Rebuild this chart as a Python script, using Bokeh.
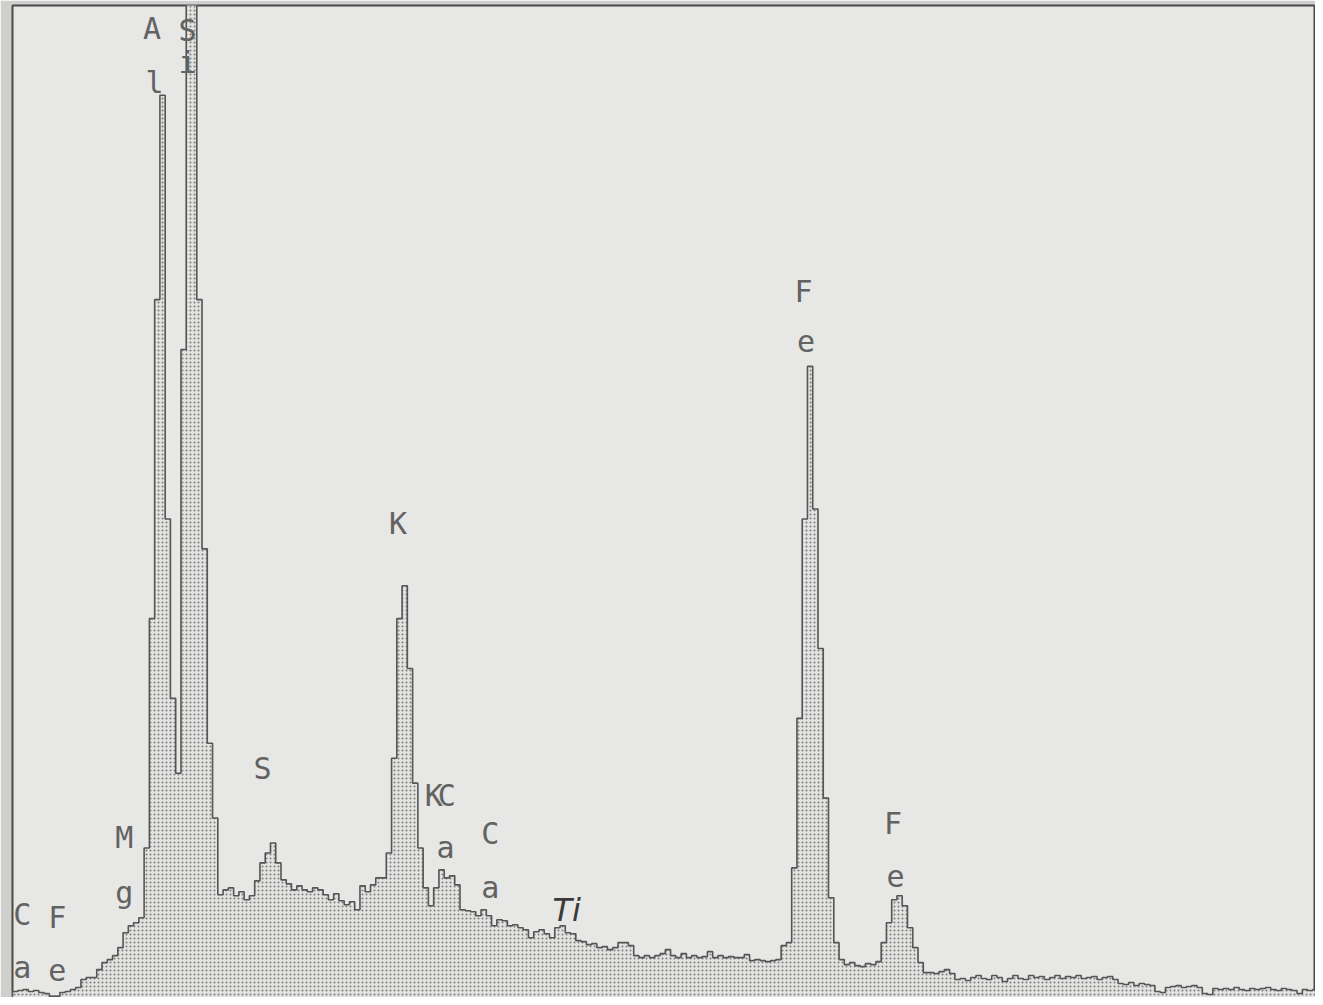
from bokeh.plotting import figure
from bokeh.models import Range1d, ColumnDataSource
from bokeh.core.properties import value
from bokeh.embed import file_html
from bokeh.resources import INLINE

# EDS spectrum: counts per channel, channels of 0.04 keV starting at 0.32 keV
energy_start = 0.32
energy_end = 10.22
channel_width = 0.04
counts = [
    6, 7, 8, 6, 7, 5, 4, 1, 1, 5,
    6, 8, 10, 18, 20, 20, 28, 35, 38, 42,
    50, 65, 72, 75, 80, 150, 380, 700, 905, 480,
    300, 225, 650, 1100, 1100, 700, 450, 255, 180, 103,
    108, 110, 102, 106, 98, 102, 117, 135, 145, 155,
    135, 118, 114, 108, 112, 108, 106, 110, 108, 103,
    98, 104, 97, 93, 96, 88, 112, 106, 113, 120,
    120, 145, 240, 380, 413, 330, 215, 150, 110, 92,
    110, 128, 120, 122, 113, 88, 87, 86, 82, 88,
    82, 72, 78, 77, 72, 73, 70, 68, 60, 66,
    68, 64, 60, 70, 72, 65, 64, 57, 56, 53,
    54, 50, 51, 48, 50, 55, 55, 52, 42, 40,
    42, 40, 42, 44, 48, 42, 40, 44, 40, 42,
    40, 41, 46, 40, 42, 40, 41, 40, 40, 43,
    37, 38, 37, 36, 37, 38, 52, 55, 130, 280,
    480, 633, 490, 350, 200, 100, 55, 38, 33, 35,
    32, 31, 34, 33, 36, 55, 75, 98, 102, 92,
    70, 50, 35, 25, 25, 24, 26, 28, 24, 18,
    19, 17, 20, 22, 19, 18, 22, 20, 16, 19,
    22, 19, 18, 22, 20, 21, 18, 20, 22, 19,
    21, 20, 22, 19, 20, 21, 18, 20, 21, 18,
    14, 13, 15, 12, 14, 13, 12, 6, 5, 10,
    11, 12, 10, 11, 12, 10, 4, 3, 9, 8,
    9, 8, 10, 8, 7, 9, 8, 9, 10, 8,
    7, 9, 8, 7, 4, 8, 7, 8,
]

# element labels (printed one letter per line, as on the instrument printout)
label_text = ["C", "a", "F", "e", "M", "g", "A", "l", "S", "i", "S", "K",
              "K", "C", "a", "C", "a", "F", "e", "F", "e"]
label_energy = [0.395, 0.395, 0.66, 0.66, 1.17, 1.17, 1.38, 1.40, 1.65, 1.65, 2.22, 3.25,
                3.52, 3.62, 3.61, 3.95, 3.95, 6.33, 6.35, 7.01, 7.03]
label_counts = [83, 30, 80, 28, 160, 105, 972, 918, 970, 938, 230, 475,
                203, 203, 150, 164, 110, 708, 658, 175, 122]

ti_text = ["Ti"]
ti_energy = [4.53]
ti_counts = [88]

n = len(counts)
x_last = energy_start + n * channel_width

# build the step outline of the histogram from the channel counts
step_x = [energy_start]
step_y = [0]
for i, c in enumerate(counts):
    left = energy_start + i * channel_width
    right = left + channel_width
    step_x += [left, right]
    step_y += [c, c]
step_x.append(x_last)
step_y.append(0)

bg = "#e7e7e5"

p = figure(width=1315, height=997, output_backend="svg", toolbar_location=None,
           x_range=Range1d(energy_start, energy_end), y_range=Range1d(0, 995),
           x_axis_type=None, y_axis_type=None,
           min_border_left=12, min_border_right=0, min_border_top=5, min_border_bottom=0)
p.grid.visible = False
p.background_fill_color = bg
p.border_fill_color = "#cfcfcd"
p.outline_line_color = "#4a4a4a"
p.outline_line_width = 2

p.patch(step_x, step_y, fill_color="#e2e2e0", line_color=None,
        hatch_pattern=".", hatch_color="#7c7c7c", hatch_scale=4, hatch_weight=1.2)
p.line(step_x, step_y, line_color="#555555", line_width=1.6)

src = ColumnDataSource(dict(x=label_energy, y=label_counts, t=label_text))
p.text(x="x", y="y", text="t", source=src, text_font=value("DejaVu Sans Mono"),
       text_font_size="30px", text_align="center", text_baseline="middle",
       text_color="#626262")
p.text(x=ti_energy, y=ti_counts, text=ti_text, text_font=value("DejaVu Sans"),
       text_font_size="32px", text_font_style="italic", text_align="center",
       text_baseline="middle", text_color="#3a3a3a")

open("out.html", "w").write(file_html(p, INLINE))
